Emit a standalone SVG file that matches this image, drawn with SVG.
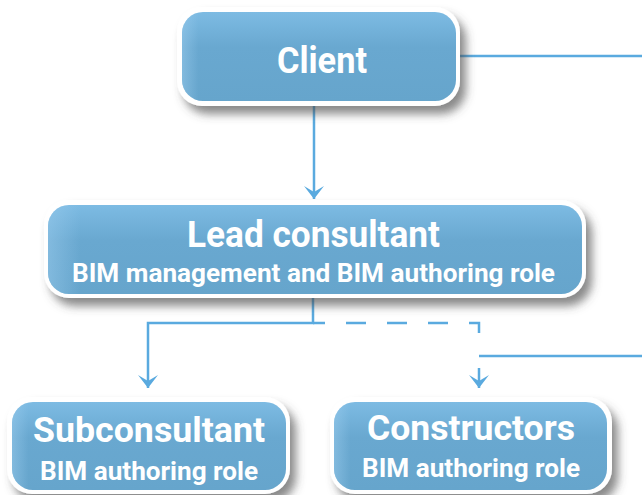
<svg xmlns="http://www.w3.org/2000/svg" width="642" height="495" viewBox="0 0 642 495">
<defs>
<linearGradient id="gv" x1="0" y1="0" x2="0" y2="1">
<stop offset="0" stop-color="#7dbbe3"/>
<stop offset="0.4" stop-color="#69a8d0"/>
<stop offset="1" stop-color="#66a5cc"/>
</linearGradient>
<linearGradient id="gh" x1="0" y1="0" x2="1" y2="0">
<stop offset="0" stop-color="#9ccdee" stop-opacity="0.5"/>
<stop offset="0.06" stop-color="#9ccdee" stop-opacity="0"/>
<stop offset="1" stop-color="#9ccdee" stop-opacity="0"/>
</linearGradient>
<filter id="sh" x="-10%" y="-20%" width="125%" height="150%">
<feGaussianBlur in="SourceAlpha" stdDeviation="5"/>
<feOffset dx="6" dy="8" result="b"/>
<feFlood flood-color="#4a4a4a" flood-opacity="0.65"/>
<feComposite in2="b" operator="in"/>
<feMerge><feMergeNode/><feMergeNode in="SourceGraphic"/></feMerge>
</filter>
<marker id="ah" viewBox="-14 -11 15 22" refX="0" refY="0" markerWidth="15" markerHeight="22" markerUnits="userSpaceOnUse" orient="auto">
<path d="M0,0 L-13,-10 L-7,0 L-13,10 Z" fill="#5aaadf"/>
</marker>
</defs>
<style>
.outer{fill:#ffffff;filter:url(#sh)}
.inner{fill:url(#gv)}
.glow{fill:url(#gh)}
.t1{font-family:Roboto,"Liberation Sans",sans-serif;font-weight:700;fill:#ffffff;text-anchor:middle}
.t2{font-family:Roboto,"Liberation Sans",sans-serif;font-weight:700;fill:#ffffff;text-anchor:middle;font-size:25px}
.ln{fill:none;stroke:#5aaadf;stroke-width:2.5}
</style>
<rect width="642" height="495" fill="#ffffff"/>
<g id="connectors">
<path class="ln" d="M314,106 V199" marker-end="url(#ah)"/>
<path class="ln" d="M460,56 H642"/>
<path class="ln" d="M313,298 V323 H148 V388" marker-end="url(#ah)"/>
<path class="ln" d="M313,323 H479 V335" stroke-dasharray="20 21" stroke-dashoffset="8"/>
<path class="ln" d="M479,356 H642"/>
<path class="ln" d="M479,368 V388" marker-end="url(#ah)"/>
</g>
<g id="client">
<rect class="outer" x="177" y="7" width="283" height="99" rx="25"/>
<rect class="inner" x="182" y="12" width="274" height="89" rx="21"/>
<rect class="glow" x="182" y="12" width="274" height="89" rx="21"/>
<text class="t1" x="322" y="73" font-size="37" textLength="90" lengthAdjust="spacingAndGlyphs">Client</text>
</g>
<g id="lead">
<rect class="outer" x="44" y="200" width="542" height="98" rx="25"/>
<rect class="inner" x="48" y="205" width="534" height="89" rx="21"/>
<rect class="glow" x="48" y="205" width="534" height="89" rx="21"/>
<text class="t1" x="313.5" y="247" font-size="36" textLength="253" lengthAdjust="spacingAndGlyphs">Lead consultant</text>
<text class="t2" x="313.5" y="282" textLength="483" lengthAdjust="spacingAndGlyphs">BIM management and BIM authoring role</text>
</g>
<g id="subconsultant">
<rect class="outer" x="7" y="397" width="283" height="97" rx="25"/>
<rect class="inner" x="12" y="402" width="274" height="88" rx="21"/>
<rect class="glow" x="12" y="402" width="274" height="88" rx="21"/>
<text class="t1" x="149" y="442" font-size="35" textLength="232" lengthAdjust="spacingAndGlyphs">Subconsultant</text>
<text class="t2" x="149" y="480" textLength="218" lengthAdjust="spacingAndGlyphs">BIM authoring role</text>
</g>
<g id="constructors">
<rect class="outer" x="330" y="397" width="282" height="97" rx="25"/>
<rect class="inner" x="334" y="402" width="273" height="88" rx="21"/>
<rect class="glow" x="334" y="402" width="273" height="88" rx="21"/>
<text class="t1" x="471" y="440" font-size="35" textLength="208" lengthAdjust="spacingAndGlyphs">Constructors</text>
<text class="t2" x="471" y="477" textLength="218" lengthAdjust="spacingAndGlyphs">BIM authoring role</text>
</g>
</svg>
